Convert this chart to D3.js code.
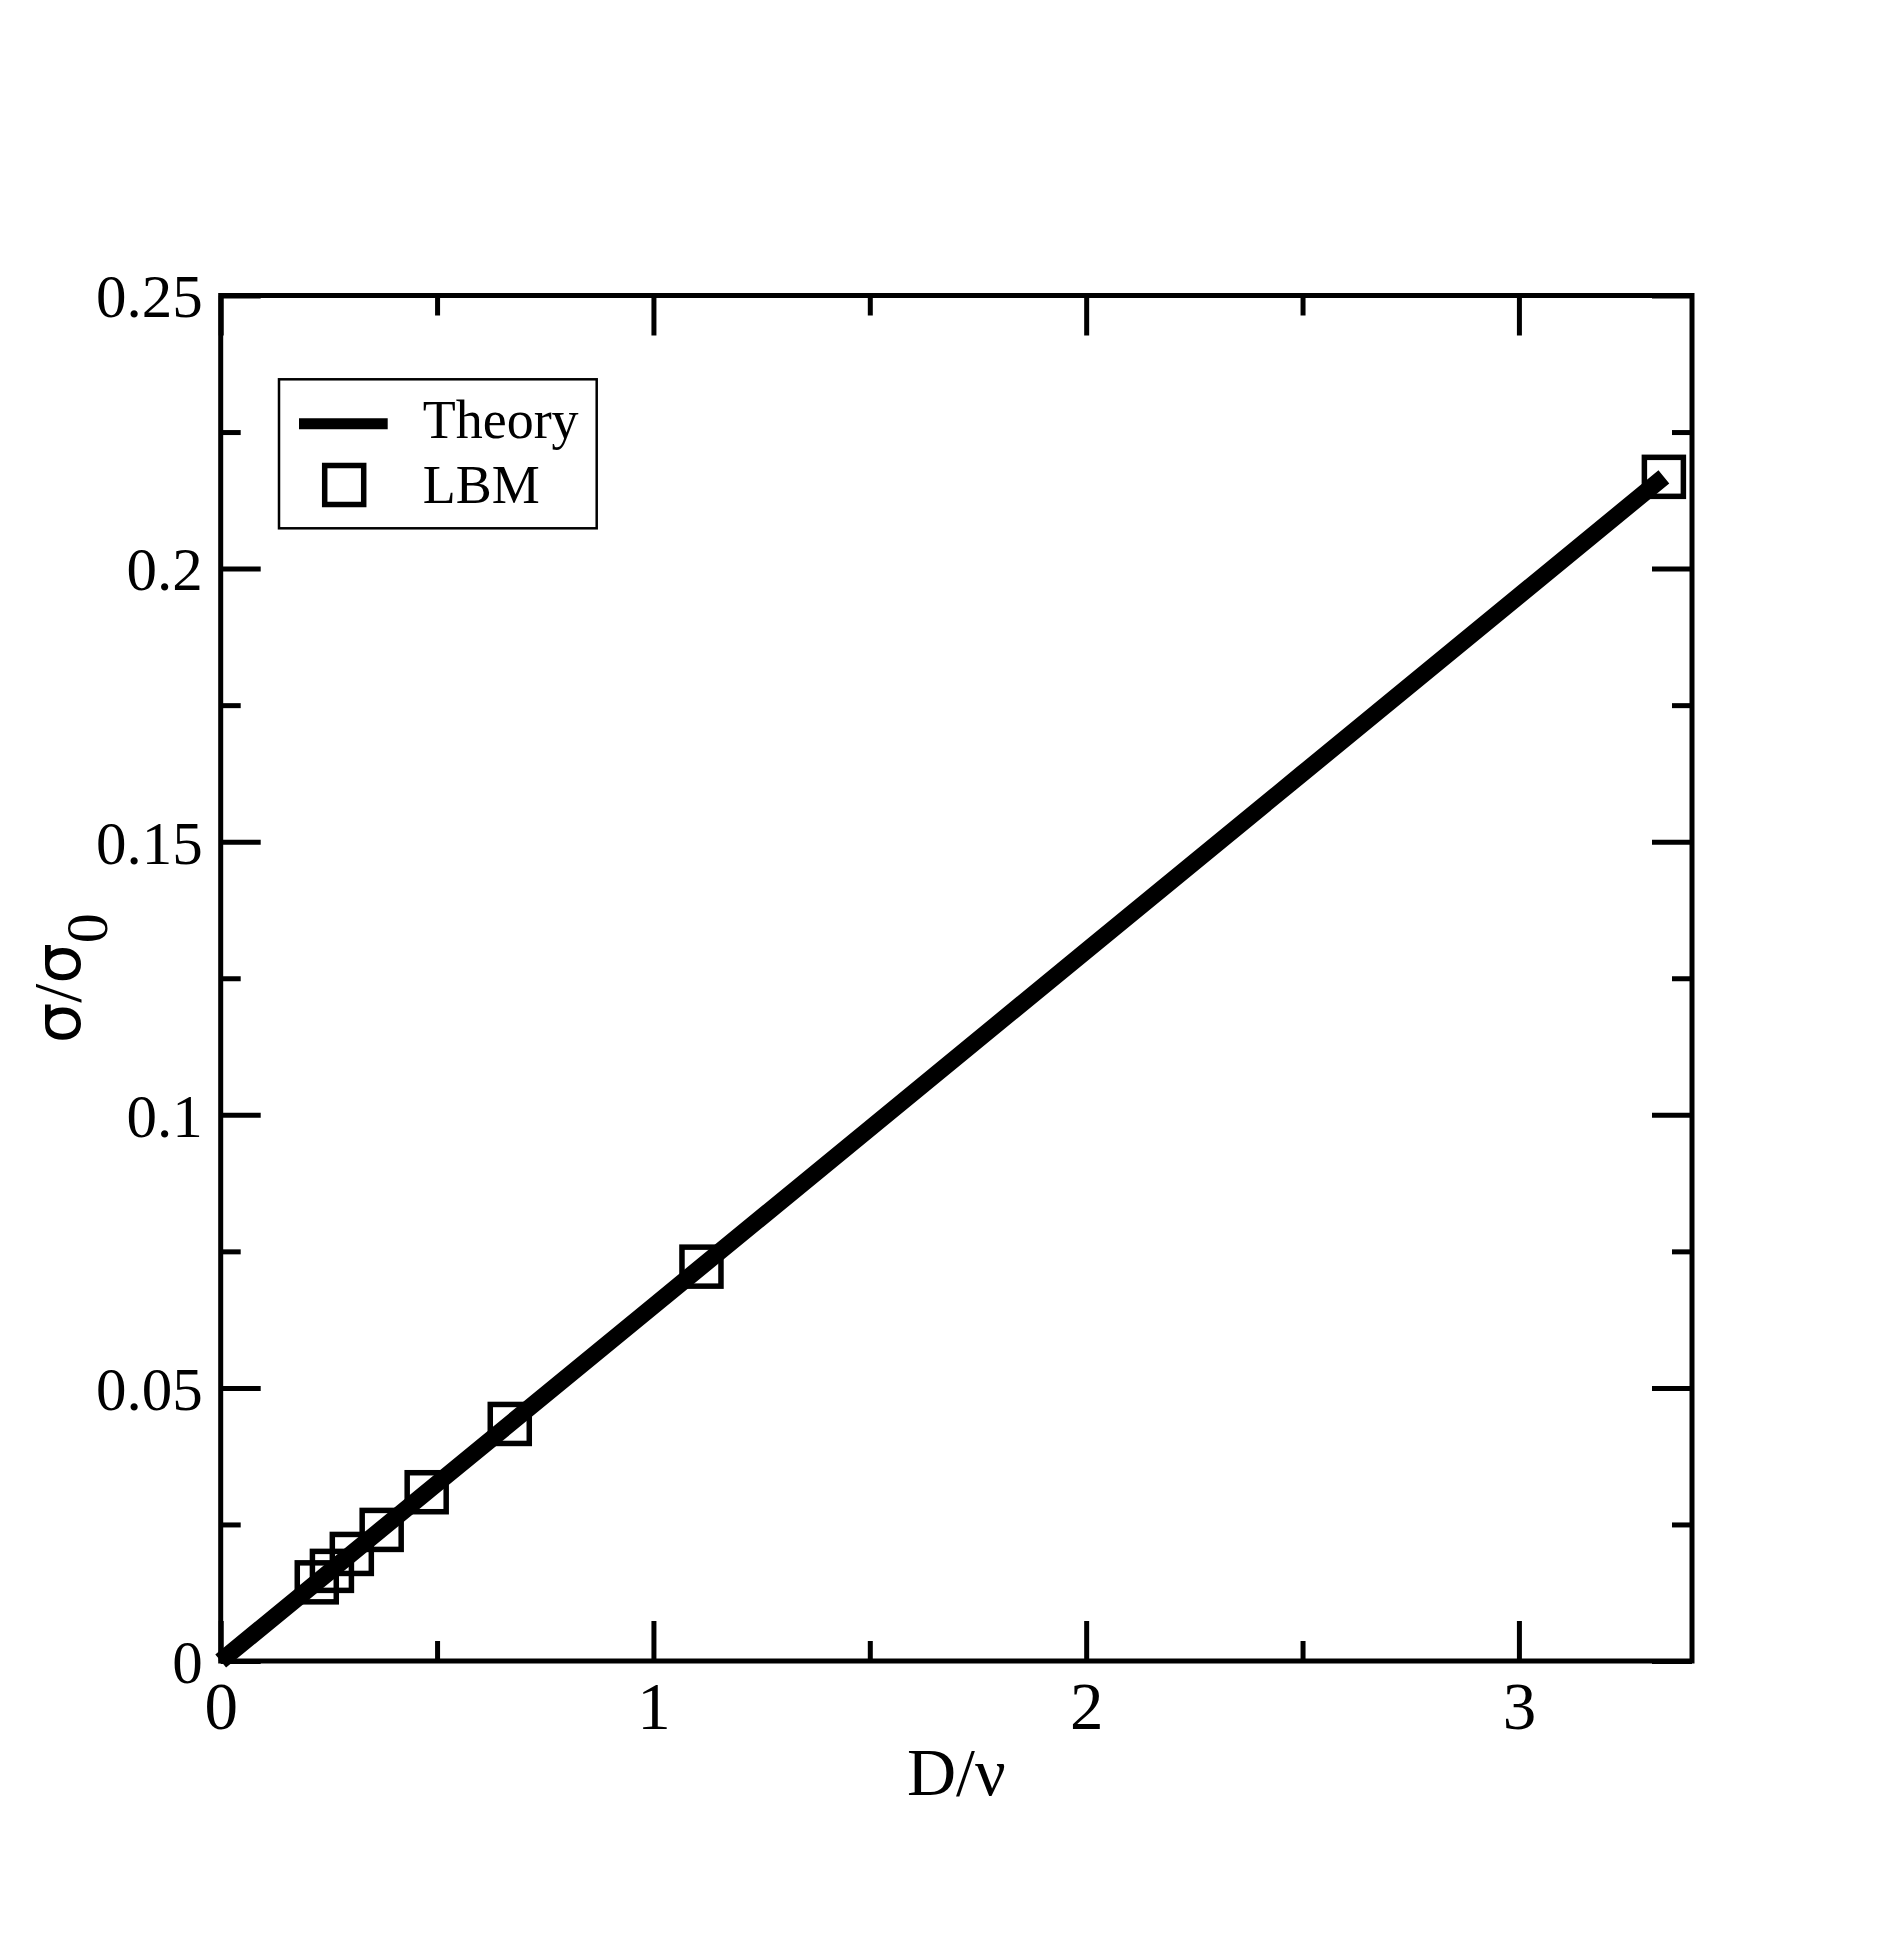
<!DOCTYPE html>
<html>
<head>
<meta charset="utf-8">
<script src="https://cdn.jsdelivr.net/npm/d3@7"></script>
<style>
  body { margin: 0; background: #fff; }
  svg { display: block; }
  text { font-family: "Liberation Serif", "Times New Roman", serif; fill: #000; }
</style>
</head>
<body>
<svg id="chart"></svg>
<script>
// Theory curve (D/nu vs sigma/sigma0)
const theoryX = [0, 0.5, 1, 1.5, 2, 2.5, 3, 3.335];
const theoryY = [0, 0.0325, 0.065, 0.0975, 0.130, 0.1625, 0.195, 0.2168];

// LBM simulation points
const lbmX = [0.222, 0.257, 0.303, 0.372, 0.476, 0.668, 1.111, 3.335];
const lbmY = [0.0144, 0.0165, 0.0196, 0.0240, 0.0309, 0.0434, 0.0722, 0.2168];

// Tick values
const xMajor = [0, 1, 2, 3];
const xMinor = [0.5, 1.5, 2.5];
const yMajor = [0, 0.05, 0.1, 0.15, 0.2, 0.25];
const yMinor = [0.025, 0.075, 0.125, 0.175, 0.225];
const yLabels = ["0", "0.05", "0.1", "0.15", "0.2", "0.25"];

const W = 1904, H = 1954;
const plotL = 220.7, plotR = 1692, plotT = 295.5, plotB = 1661;

const svg = d3.select("#chart").attr("width", W).attr("height", H);

const x = d3.scaleLinear().domain([0, 3.4]).range([plotL, plotR]);
const y = d3.scaleLinear().domain([0, 0.25]).range([plotB, plotT]);

// Ticks on all four sides, pointing inward
function tickAxis(axis, values, size, labels) {
  return axis
    .tickValues(values)
    .tickSizeInner(-size)
    .tickSizeOuter(0)
    .tickFormat(labels ? labels : () => "");
}

function styleAxis(g) {
  g.select(".domain").remove();
  g.selectAll(".tick line").attr("stroke", "#000").attr("stroke-width", 5);
}

// bottom
svg.append("g")
  .attr("transform", `translate(0,${plotB})`)
  .call(tickAxis(d3.axisBottom(x), xMinor, 20))
  .call(styleAxis);
const xAxisG = svg.append("g")
  .attr("transform", `translate(0,${plotB})`)
  .call(tickAxis(d3.axisBottom(x), xMajor, 40, d3.format("d")).tickPadding(20))
  .call(styleAxis);
xAxisG.selectAll(".tick text")
  .attr("font-family", "Liberation Serif")
  .attr("font-size", 67)
  .attr("fill", "#000");

// top
svg.append("g")
  .attr("transform", `translate(0,${plotT})`)
  .call(tickAxis(d3.axisTop(x), xMinor, 20))
  .call(styleAxis);
svg.append("g")
  .attr("transform", `translate(0,${plotT})`)
  .call(tickAxis(d3.axisTop(x), xMajor, 40))
  .call(styleAxis);

// left
svg.append("g")
  .attr("transform", `translate(${plotL},0)`)
  .call(tickAxis(d3.axisLeft(y), yMinor, 20))
  .call(styleAxis);
const yAxisG = svg.append("g")
  .attr("transform", `translate(${plotL},0)`)
  .call(tickAxis(d3.axisLeft(y), yMajor, 40, (d, i) => yLabels[i]).tickPadding(18))
  .call(styleAxis);
yAxisG.selectAll(".tick text")
  .attr("font-family", "Liberation Serif")
  .attr("font-size", 61)
  .attr("dy", "0.35em")
  .attr("fill", "#000");

// right
svg.append("g")
  .attr("transform", `translate(${plotR},0)`)
  .call(tickAxis(d3.axisRight(y), yMinor, 20))
  .call(styleAxis);
svg.append("g")
  .attr("transform", `translate(${plotR},0)`)
  .call(tickAxis(d3.axisRight(y), yMajor, 40))
  .call(styleAxis);

// frame
svg.append("rect")
  .attr("x", plotL).attr("y", plotT)
  .attr("width", plotR - plotL).attr("height", plotB - plotT)
  .attr("fill", "none")
  .attr("stroke", "#000")
  .attr("stroke-width", 5);

// theory line
const theory = theoryX.map((d, i) => ({ x: d, y: theoryY[i] }));
const line = d3.line().x((d) => x(d.x)).y((d) => y(d.y));
svg.append("path")
  .datum(theory)
  .attr("d", line)
  .attr("fill", "none")
  .attr("stroke", "#000")
  .attr("stroke-width", 17)
  .attr("stroke-linecap", "butt");

// LBM squares
const side = 39;
const lbm = lbmX.map((d, i) => ({ x: d, y: lbmY[i] }));
svg.selectAll("rect.lbm")
  .data(lbm)
  .enter()
  .append("rect")
  .attr("class", "lbm")
  .attr("x", (d) => x(d.x) - side / 2)
  .attr("y", (d) => y(d.y) - side / 2)
  .attr("width", side)
  .attr("height", side)
  .attr("fill", "none")
  .attr("stroke", "#000")
  .attr("stroke-width", 5.5);

// axis titles
svg.append("text")
  .attr("x", (plotL + plotR) / 2)
  .attr("y", 1795)
  .attr("text-anchor", "middle")
  .attr("font-size", 68)
  .text("D/ν");

const yTitle = svg.append("text")
  .attr("transform", `translate(80,${(plotT + plotB) / 2}) rotate(-90)`)
  .attr("text-anchor", "middle")
  .attr("font-size", 68);
yTitle.append("tspan").attr("font-family", "DejaVu Sans").attr("font-size", 64).text("σ");
yTitle.append("tspan").text("/");
yTitle.append("tspan").attr("font-family", "DejaVu Sans").attr("font-size", 64).text("σ");
yTitle.append("tspan").attr("font-size", 60).attr("dy", 27).text("0");

// legend
const legend = svg.append("g");
legend.append("rect")
  .attr("x", 279).attr("y", 379.3)
  .attr("width", 317.7).attr("height", 149)
  .attr("fill", "#fff")
  .attr("stroke", "#000")
  .attr("stroke-width", 2.5);
legend.append("line")
  .attr("x1", 299).attr("x2", 387.7)
  .attr("y1", 423.8).attr("y2", 423.8)
  .attr("stroke", "#000")
  .attr("stroke-width", 11);
legend.append("rect")
  .attr("x", 344.2 - side / 2).attr("y", 485 - side / 2)
  .attr("width", side).attr("height", side)
  .attr("fill", "none")
  .attr("stroke", "#000")
  .attr("stroke-width", 5.5);
legend.append("text")
  .attr("x", 422.7).attr("y", 437.7)
  .attr("font-size", 54)
  .text("Theory");
legend.append("text")
  .attr("x", 422.7).attr("y", 503.3)
  .attr("font-size", 54)
  .text("LBM");
</script>
</body>
</html>
